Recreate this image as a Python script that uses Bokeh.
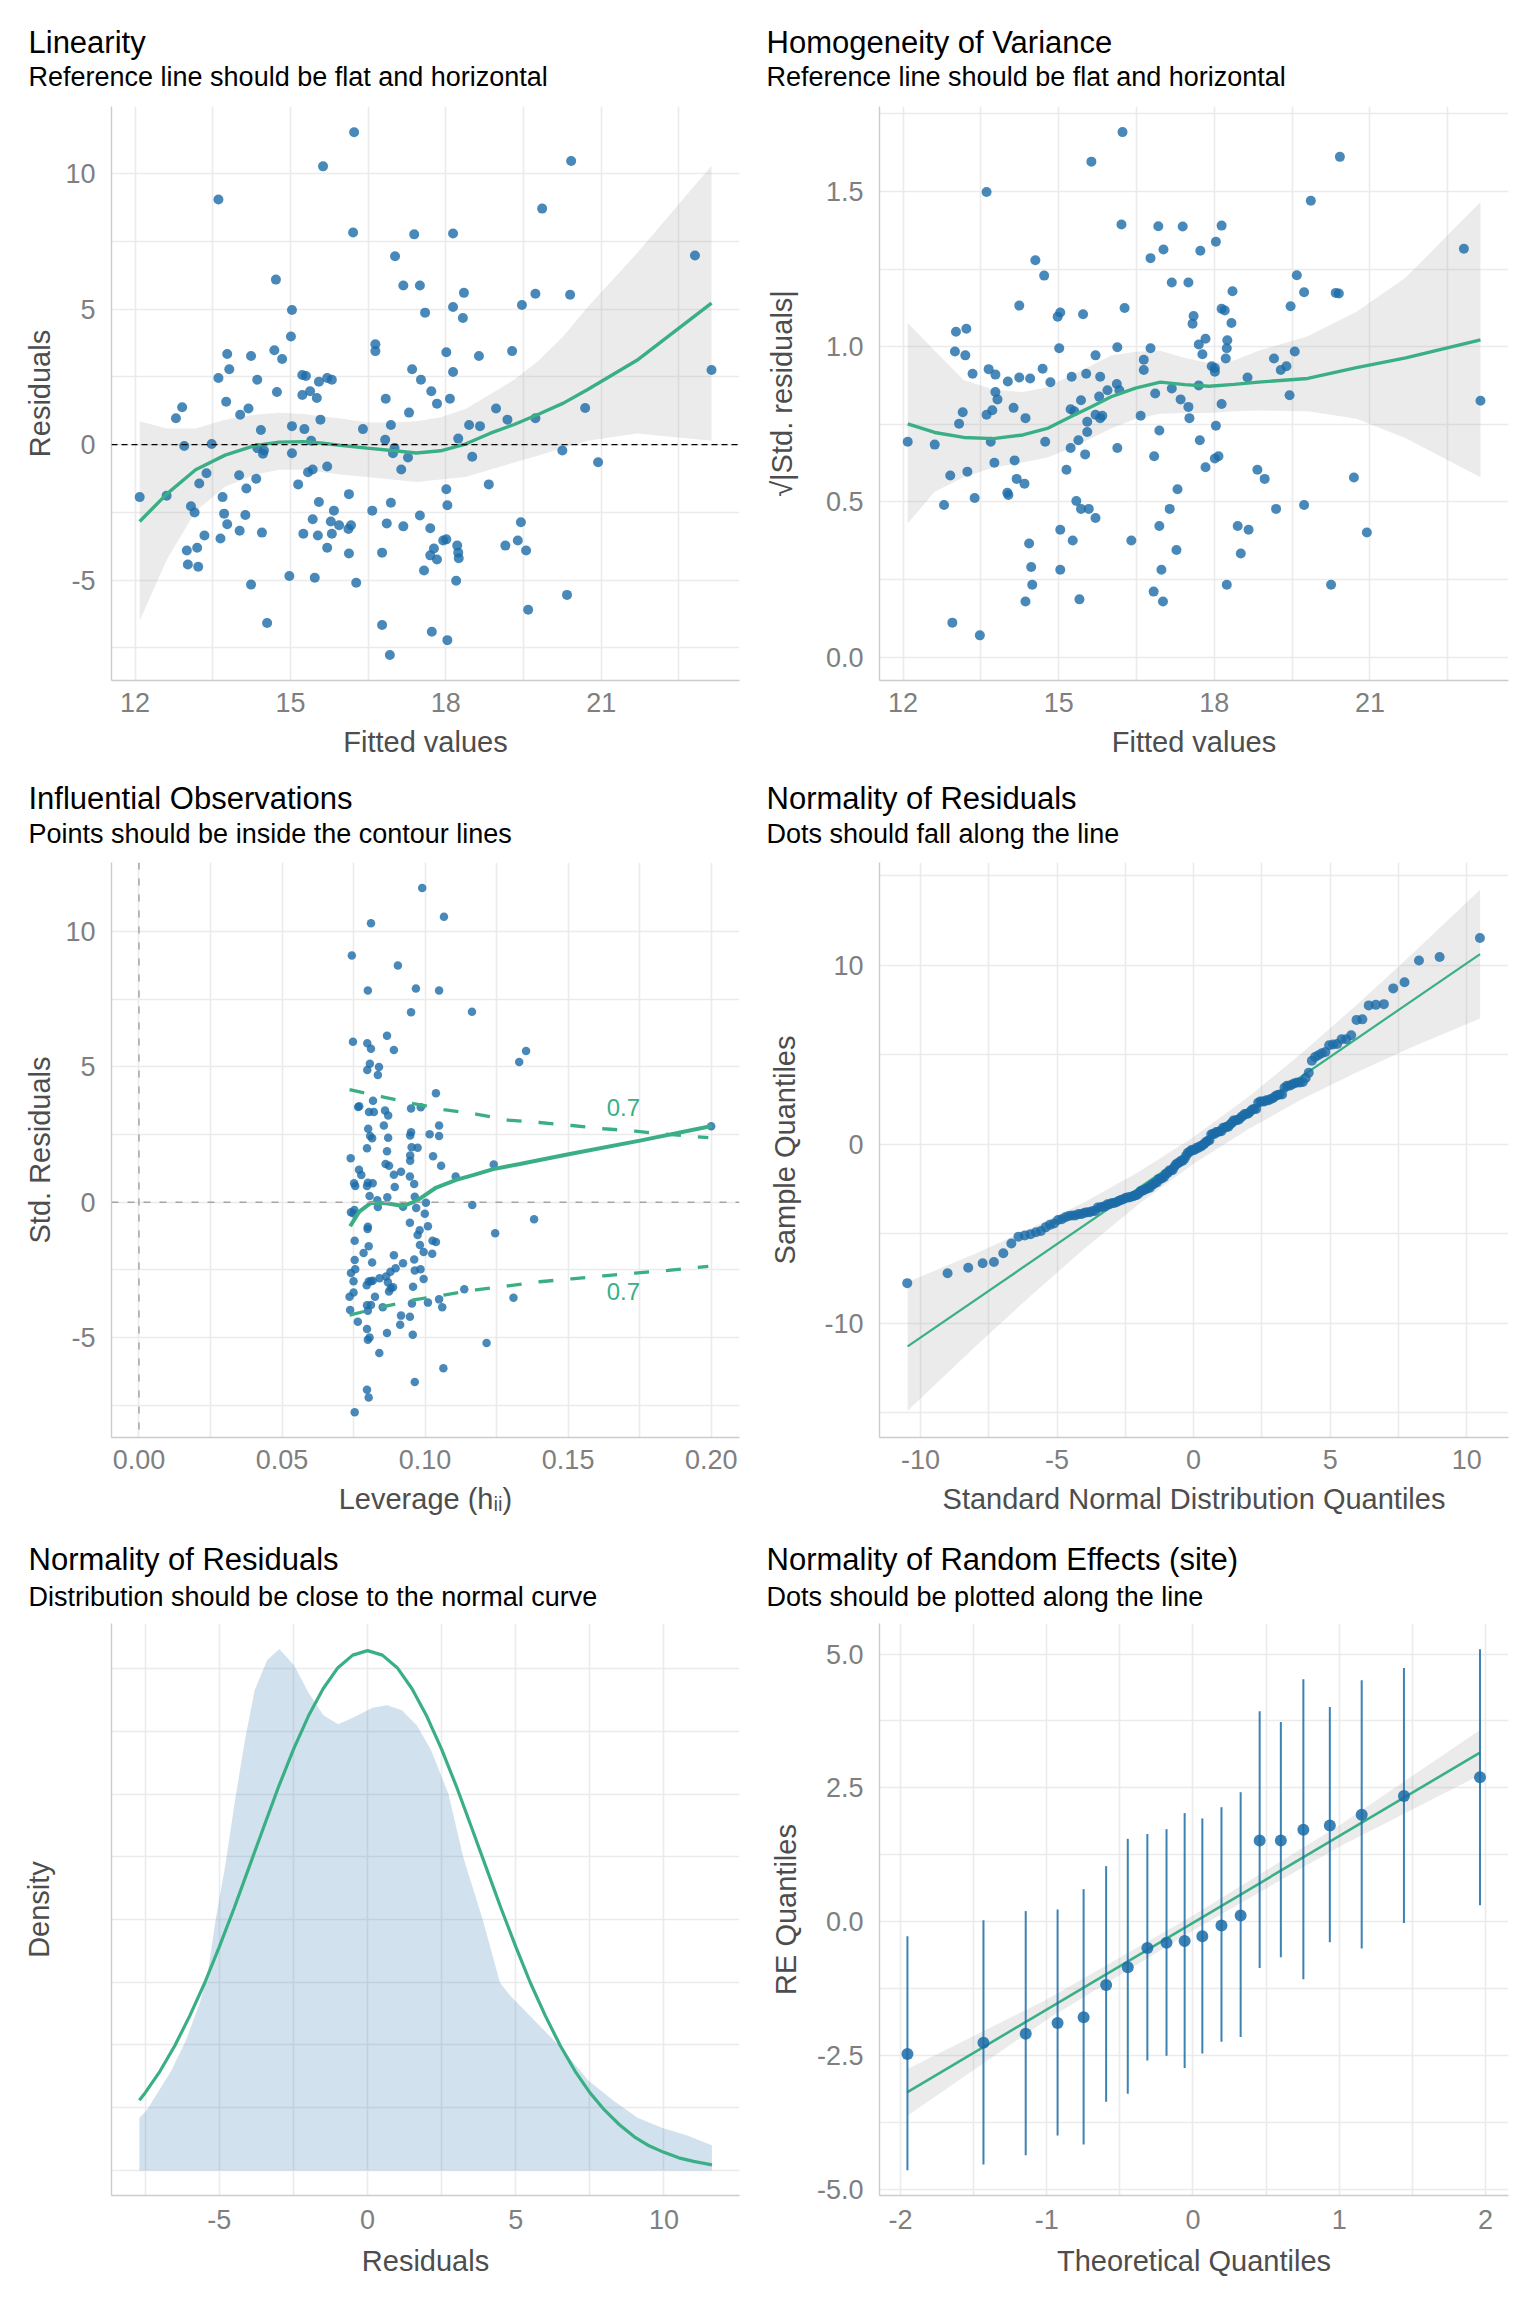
import math
from statistics import NormalDist
from bokeh.plotting import figure
from bokeh.models import Range1d, FixedTicker, PrintfTickFormatter, Title, Label, Span
from bokeh.layouts import column, row
from bokeh.embed import file_html
from bokeh.resources import INLINE

FONT = "Liberation Sans"
BLUE = "#1b6ca8"
GREEN = "#3aaf85"
GRID = "#ebebeb"
AXIS = "#cccccc"
BAND = "#999999"

# ---------------- data ----------------
fitted = [12.09, 12.61, 12.79, 12.91, 12.95, 13.00, 13.02, 13.08, 13.15, 13.20,
          13.22, 13.24, 13.34, 13.38, 13.48, 13.61, 13.61, 13.65, 13.69, 13.72,
          13.76, 13.78, 13.78, 13.82, 14.01, 14.02, 14.03, 14.13, 14.15, 14.19,
          14.24, 14.24, 14.34, 14.36, 14.36, 14.43, 14.45, 14.47, 14.49, 14.55,
          14.69, 14.72, 14.74, 14.84, 14.98, 15.01, 15.03, 15.03, 15.03, 15.15,
          15.23, 15.23, 15.25, 15.27, 15.30, 15.34, 15.38, 15.40, 15.43, 15.43,
          15.47, 15.51, 15.53, 15.55, 15.55, 15.58, 15.63, 15.71, 15.71, 15.71,
          15.78, 15.80, 15.80, 15.84, 15.94, 16.12, 16.13, 16.13, 16.17, 16.21,
          16.23, 16.27, 16.40, 16.58, 16.64, 16.64, 16.77, 16.77, 16.83, 16.84,
          16.86, 16.92, 16.94, 16.94, 16.98, 17.01, 17.02, 17.14, 17.18, 17.18,
          17.27, 17.29, 17.35, 17.39, 17.50, 17.50, 17.52, 17.58, 17.60, 17.70,
          17.72, 17.70, 17.73, 17.77, 17.83, 17.83, 17.95, 18.01, 18.01, 18.01,
          18.03, 18.03, 18.08, 18.14, 18.14, 18.14, 18.20, 18.22, 18.24, 18.25,
          18.24, 18.33, 18.35, 18.45, 18.51, 18.64, 18.66, 18.83, 18.97, 19.15,
          19.19, 19.28, 19.39, 19.45, 19.47, 19.55, 19.59, 19.73, 19.73, 19.86,
          20.25, 20.34, 20.40, 20.42, 20.69, 20.94, 22.81, 23.13]
residuals = [-1.94, -1.89, 0.97, 1.38, -0.05, -3.91, -4.43, -2.28, -2.51, -3.81,
             -4.51, -1.44, -3.36, -1.06, 0.02, 9.05, 2.46, -3.47, -1.94, -2.55,
             1.58, 3.34, -2.94, 2.78, -1.13, -3.18, 1.10, -2.60, -1.62, 1.33,
             3.27, -5.17, -1.26, 2.39, -0.13, 0.54, -3.25, -0.34, -0.22, -6.59,
             3.48, 6.09, 1.94, 3.16, -4.85, 3.99, 4.97, 0.68, -0.32, -1.47,
             2.57, 1.83, -3.29, 0.57, 2.53, -1.02, 1.97, 0.14, -0.92, -2.76,
             -4.92, 1.72, -3.36, 2.32, -2.12, 0.92, 10.27, 2.46, -0.81, -3.81,
             -2.84, 2.39, -3.29, -2.44, -2.98, -3.12, -1.83, -4.02, -2.98, 7.83,
             11.53, -5.10, 0.57, -2.44, 3.70, 3.45, -3.99, -6.66, 0.18, 1.69,
             -2.91, -7.77, 0.72, -2.15, -0.32, -0.13, 6.95, -0.92, -3.02, 5.87,
             -0.48, 1.18, 2.78, 7.76, -2.62, 5.87, 2.39, -4.65, 4.87, -3.09,
             1.97, -4.09, -6.91, -3.84, -4.24, 1.51, -3.54, -3.50, 3.41, -1.65,
             -7.22, -2.24, 1.69, 7.79, 2.68, 5.08, -5.03, -3.73, -3.99, -4.20,
             0.22, 4.67, 5.60, 0.72, -0.45, 3.27, 0.68, -1.47, 1.33, -3.73,
             0.92, 3.45, -3.54, -2.87, 5.15, -3.91, -6.10, 5.57, 0.97, 8.71,
             -0.22, -5.55, 5.53, 10.47, 1.35, -0.65, 6.98, 2.75]
sigma_std = 4.03
qq_scale = 3.84       # x scale of the QQ panel

# panel 1 loess curve and band
lin_x = [12.09, 12.61, 13.17, 13.74, 14.31, 14.78, 15.25, 15.63, 16.01, 16.48, 16.96,
         17.43, 17.90, 18.38, 18.85, 19.32, 19.80, 20.27, 20.74, 21.69, 23.13]
lin_y = [-2.84, -1.83, -0.93, -0.39, -0.04, 0.09, 0.11, 0.05, -0.04, -0.13, -0.22,
         -0.31, -0.23, 0.02, 0.41, 0.74, 1.13, 1.53, 2.03, 3.11, 5.22]
lin_hi = [0.86, 0.59, 0.59, 0.92, 1.10, 1.17, 1.13, 1.04, 0.95, 0.81, 0.81,
          0.86, 1.01, 1.31, 1.85, 2.39, 3.11, 4.00, 5.08, 7.06, 10.29]
lin_lo = [-6.50, -4.26, -2.46, -1.56, -1.11, -0.93, -0.93, -1.02, -1.11, -1.20, -1.29,
          -1.38, -1.29, -1.20, -0.93, -0.66, -0.39, -0.13, 0.14, 0.41, 0.14]

# panel 2 loess curve and band
hom_x = [12.09, 12.61, 13.17, 13.74, 14.31, 14.78, 15.25, 15.63, 16.01, 16.48,
         16.96, 17.43, 17.90, 18.38, 18.85, 19.80, 20.74, 21.69, 23.13]
hom_y = [0.752, 0.724, 0.708, 0.704, 0.716, 0.737, 0.776, 0.807, 0.839, 0.867,
         0.886, 0.878, 0.873, 0.879, 0.886, 0.898, 0.933, 0.964, 1.022]
hom_hi = [1.077, 0.987, 0.893, 0.862, 0.854, 0.870, 0.909, 0.940, 0.972, 0.984,
          0.987, 0.964, 0.948, 0.956, 0.987, 1.034, 1.113, 1.223, 1.466]
hom_lo = [0.431, 0.533, 0.580, 0.611, 0.627, 0.643, 0.674, 0.705, 0.737, 0.768,
          0.784, 0.787, 0.787, 0.792, 0.795, 0.792, 0.768, 0.705, 0.580]

# panel 3 leverage vs std. residuals
leverage = [0.0990, 0.1066, 0.0811, 0.0744, 0.0905, 0.0800, 0.0968, 0.1049, 0.0951, 0.1164,
            0.0748, 0.0798, 0.0811, 0.0867, 0.0891, 0.1353, 0.1329, 0.0807, 0.0839, 0.0798,
            0.0835, 0.1038, 0.0766, 0.0770, 0.0818, 0.0804, 0.0821, 0.0860, 0.0871, 0.0951,
            0.0985, 0.1049, 0.0856, 0.0801, 0.0808, 0.0815, 0.0871, 0.0951, 0.0948, 0.1016,
            0.1049, 0.0797, 0.0867, 0.0953, 0.0974, 0.1028, 0.0948, 0.0740, 0.0948, 0.1056,
            0.1240, 0.0769, 0.0777, 0.0862, 0.0874, 0.0891, 0.0916, 0.0947, 0.0962, 0.1107,
            0.0752, 0.0756, 0.0797, 0.0800, 0.0817, 0.0894, 0.0806, 0.0833, 0.0868, 0.0964,
            0.0835, 0.0923, 0.0969, 0.1003, 0.1165, 0.0999, 0.0741, 0.0753, 0.0750, 0.0800,
            0.0799, 0.0947, 0.1010, 0.0981, 0.0974, 0.1381, 0.1245, 0.0754, 0.0803, 0.1026,
            0.1038, 0.0982, 0.0785, 0.0995, 0.1025, 0.0891, 0.0815, 0.0754, 0.0962, 0.0923,
            0.0897, 0.0879, 0.0756, 0.0984, 0.0964, 0.0741, 0.0750, 0.0995, 0.0803, 0.0811,
            0.0817, 0.0841, 0.0864, 0.0870, 0.0796, 0.0880, 0.0888, 0.0874, 0.0958, 0.0750,
            0.0736, 0.0825, 0.1137, 0.1309, 0.1010, 0.1049, 0.1060, 0.0954, 0.0797, 0.0811,
            0.0852, 0.0800, 0.0738, 0.0765, 0.0916, 0.0947, 0.0913, 0.0797, 0.0867, 0.0957,
            0.0806, 0.0800, 0.1215, 0.0840, 0.1064, 0.0964, 0.0797, 0.0803, 0.0754, 0.2000]
std_res = [11.60, 10.54, 10.30, 9.11, 8.74, 7.81, 7.89, 7.81, 7.01, 7.03,
           5.92, 5.87, 5.66, 6.14, 5.62, 5.58, 5.17, 5.11, 4.99, 4.88,
           4.69, 4.02, 3.51, 3.54, 3.74, 3.33, 3.33, 3.38, 3.20, 3.46,
           3.50, 2.83, 2.83, 2.71, 2.44, 2.36, 2.38, 2.58, 2.46, 2.51,
           2.44, 1.99, 1.88, 2.03, 2.01, 1.69, 1.72, 1.62, 1.53, 1.34,
           1.39, 1.20, 1.00, 1.41, 1.34, 1.01, 1.12, 0.95, 0.67, 0.95,
           0.70, 0.60, 0.60, 0.72, 0.70, 0.56, 0.23, 0.07, 0.18, 0.20,
           -0.18, -0.17, -0.22, -0.02, -0.11, -0.43, -0.37, -0.29, -0.42, -0.91,
           -0.99, -0.76, -0.89, -1.04, -1.21, -0.63, -1.15, -1.43, -1.63, -1.43,
           -1.47, -1.58, -1.88, -1.84, -1.91, -1.96, -2.23, -2.14, -2.12, -2.26,
           -2.44, -2.57, -2.48, -2.48, -2.52, -2.62, -2.92, -2.84, -2.93, -2.92,
           -2.90, -2.81, -2.75, -2.96, -3.07, -3.18, -3.14, -3.30, -3.12, -3.34,
           -3.49, -3.49, -3.22, -3.53, -3.71, -3.59, -3.88, -3.74, -3.81, -3.80,
           -3.88, -4.01, -3.98, -4.42, -4.19, -4.23, -4.53, -4.68, -4.83, -4.90,
           -5.00, -5.08, -5.20, -5.57, -6.13, -6.64, -6.93, -7.21, -7.76, 2.80]
infl_x = [0.0738, 0.0770, 0.0812, 0.0864, 0.0923, 0.0969, 0.1039, 0.1109, 0.1168,
          0.1238, 0.1331, 0.1506, 0.1751, 0.2002]
infl_y = [-0.89, -0.35, -0.02, -0.04, -0.14, 0.04, 0.54, 0.82, 1.00,
          1.22, 1.41, 1.78, 2.27, 2.81]
cook_x = [0.0736, 0.0855, 0.0960, 0.1065, 0.1178, 0.1290, 0.1400, 0.1513, 0.1625,
          0.1735, 0.1850, 0.1990]
cook_hi = [4.15, 3.88, 3.64, 3.42, 3.25, 3.03, 2.94, 2.83, 2.71, 2.62, 2.50, 2.38]
cook_lo = [-4.17, -3.86, -3.61, -3.43, -3.24, -3.09, -2.94, -2.83, -2.72, -2.62, -2.52, -2.37]
cook_label = "0.7"
cook_label_x = 0.1693
cook_label_y = [3.51, -3.30]

# panel 4 QQ line and band
qq_line_x = [-10.47, 10.49]
qq_line_y = [-11.31, 10.63]
qq_band_x = [-10.47, -8, -6, -4, -2, 0, 2, 4, 6, 8, 10.49]
qq_band_hi = [-7.71, -6.13, -4.73, -3.24, -1.54, 0.40, 2.64, 5.14, 7.83, 10.63, 14.23]
qq_band_lo = [-14.91, -11.33, -8.53, -5.84, -3.34, -1.10, 0.84, 2.54, 4.03, 5.43, 7.03]

# panel 5 density of residuals and normal curve
dens_x = [-7.70, -7.45, -6.62, -6.13, -5.63, -5.38, -5.13, -4.80, -4.47, -4.14, -3.81,
          -3.39, -2.98, -2.48, -1.99, -1.49, -0.99, -0.50, 0.17, 0.66, 1.16, 1.66,
          2.15, 2.73, 3.23, 3.89, 4.47, 4.80, 5.46, 6.46, 7.45, 8.28, 9.11, 9.93,
          10.76, 11.62]
dens_y = [0.0105, 0.0120, 0.0199, 0.0259, 0.0339, 0.0399, 0.0498, 0.0608, 0.0738,
          0.0857, 0.0957, 0.1017, 0.1039, 0.1007, 0.0952, 0.0907, 0.0889, 0.0902,
          0.0922, 0.0927, 0.0917, 0.0887, 0.0837, 0.0750, 0.0624, 0.0499, 0.0374,
          0.0349, 0.0309, 0.0249, 0.0179, 0.0140, 0.0105, 0.0085, 0.0070, 0.0050]
norm_x = [-7.7, -7.5, -7, -6.5, -6, -5.5, -5, -4.5, -4, -3.5, -3, -2.5, -2, -1.5, -1,
          -0.5, 0, 0.5, 1, 1.5, 2, 2.5, 3, 3.5, 4, 4.5, 5, 5.5, 6, 6.5, 7, 7.5, 8,
          8.5, 9, 9.5, 10, 10.5, 11, 11.62]
norm_y = [0.0140, 0.0155, 0.0198, 0.0249, 0.0308, 0.0373, 0.0446, 0.0523, 0.0604,
          0.0685, 0.0765, 0.0839, 0.0905, 0.0960, 0.1002, 0.1027, 0.1036, 0.1027,
          0.1002, 0.0960, 0.0905, 0.0839, 0.0765, 0.0685, 0.0604, 0.0523, 0.0446,
          0.0373, 0.0308, 0.0249, 0.0198, 0.0155, 0.0120, 0.0091, 0.0067, 0.0049,
          0.0036, 0.0025, 0.0018, 0.0011]
dens_grid = [0, 0.025, 0.05, 0.075, 0.1]
dens_grid_minor = [0.0125, 0.0375, 0.0625, 0.0875]

# panel 6 random effects
re_x = [-1.953, -1.433, -1.144, -0.926, -0.748, -0.594, -0.446, -0.312, -0.181, -0.057,
        0.064, 0.195, 0.326, 0.456, 0.601, 0.755, 0.936, 1.154, 1.443, 1.963]
re_y = [-2.47, -2.26, -2.09, -1.89, -1.78, -1.18, -0.85, -0.49, -0.39, -0.36,
        -0.27, -0.07, 0.12, 1.52, 1.52, 1.72, 1.80, 2.00, 2.35, 2.70]
re_hi = [-0.27, 0.03, 0.20, 0.23, 0.61, 1.04, 1.55, 1.64, 1.73, 2.03,
         1.93, 2.14, 2.42, 3.93, 3.73, 4.53, 4.01, 4.51, 4.74, 5.09]
re_lo = [-4.64, -4.53, -4.36, -3.99, -4.16, -3.36, -3.21, -2.59, -2.50, -2.73,
         -2.46, -2.24, -2.15, -0.86, -0.66, -1.07, -0.38, -0.50, -0.02, 0.31]
re_line_x = [-1.953, 1.963]
re_line_y = [-3.18, 3.16]
re_band_x = [-1.953, -1.0, 0.0, 1.0, 1.963]
re_band_hi = [-2.75, -1.45, 0.12, 1.80, 3.58]
re_band_lo = [-3.62, -1.83, -0.16, 1.40, 2.74]

# derived series (same transformations as the diagnostic plots)
sqrt_abs_std = [math.sqrt(abs(r) / sigma_std) for r in residuals]
n_res = len(residuals)
qq_theo = [qq_scale * NormalDist().inv_cdf((i + 0.5) / n_res) for i in range(n_res)]
qq_sample = sorted(residuals)


def make_fig(left_col, height, top, bottom, xr, yr, xt, xm, yt, ym, xfmt, yfmt,
             xlabel, ylabel, title, subtitle, ylab_standoff, s_sub, s_title,
             xtick_so, xlab_so):
    if left_col:
        w, bl, br, toff = 755, 111, 16, -83
    else:
        w, bl, br, toff = 781, 124, 28, -113
    p = figure(width=w, height=height, x_range=Range1d(*xr), y_range=Range1d(*yr),
               output_backend="svg", toolbar_location=None,
               min_border_left=bl, min_border_right=br,
               min_border_top=top, min_border_bottom=bottom,
               background_fill_color="white", border_fill_color="white")
    p.outline_line_color = None
    xtick = FixedTicker(ticks=xt, minor_ticks=xm)
    ytick = FixedTicker(ticks=yt, minor_ticks=ym)
    p.xaxis.ticker = xtick
    p.yaxis.ticker = ytick
    p.xgrid.ticker = xtick
    p.ygrid.ticker = ytick
    p.xaxis.formatter = PrintfTickFormatter(format=xfmt)
    p.yaxis.formatter = PrintfTickFormatter(format=yfmt)
    for ax in (p.xaxis[0], p.yaxis[0]):
        ax.axis_line_color = AXIS
        ax.axis_line_width = 1.4
        ax.major_tick_line_color = None
        ax.minor_tick_line_color = None
        ax.major_tick_out = 0
        ax.major_tick_in = 0
        ax.major_label_text_font = FONT
        ax.major_label_text_font_size = "27px"
        ax.major_label_text_color = "#7f7f7f"
        ax.axis_label_text_font = FONT
        ax.axis_label_text_font_size = "29px"
        ax.axis_label_text_font_style = "normal"
        ax.axis_label_text_color = "#4d4d4d"
    p.xaxis.axis_label = xlabel
    p.yaxis.axis_label = ylabel
    p.xaxis.major_label_standoff = xtick_so
    p.xaxis.axis_label_standoff = xlab_so
    p.yaxis.major_label_standoff = 12
    p.yaxis.axis_label_standoff = ylab_standoff
    for g in (p.xgrid[0], p.ygrid[0]):
        g.grid_line_color = GRID
        g.grid_line_width = 1.6
        g.minor_grid_line_color = GRID
        g.minor_grid_line_width = 1.6
    p.add_layout(Title(text=subtitle, align="left", offset=toff, standoff=s_sub,
                       text_font=FONT, text_font_size="27px", text_font_style="normal",
                       text_color="black"), "above")
    p.add_layout(Title(text=title, align="left", offset=toff, standoff=s_title,
                       text_font=FONT, text_font_size="31px", text_font_style="normal",
                       text_color="black"), "above")
    return p


# ---- Panel 1: Linearity
p1 = make_fig(True, 760, 106, 78, (11.546, 23.67), (-8.71, 12.48),
              [12, 15, 18, 21], [13.5, 16.5, 19.5, 22.5], [-5, 0, 5, 10], [-7.5, -2.5, 2.5, 7.5],
              "%d", "%d", "Fitted values", "Residuals", "Linearity",
              "Reference line should be flat and horizontal", 6, 30, -30, 8, 11)
p1.varea(x=lin_x, y1=lin_lo, y2=lin_hi, fill_color=BAND, fill_alpha=0.2)
p1.scatter(fitted, residuals, size=10, fill_color=BLUE, fill_alpha=0.8, line_color=None)
p1.line(lin_x, lin_y, line_color=GREEN, line_width=3.4)
p1.add_layout(Span(location=0, dimension="width", line_color="black", line_width=1.3,
                   line_dash="6 4"))

# ---- Panel 2: Homogeneity of variance
p2 = make_fig(False, 760, 106, 78, (11.546, 23.67), (-0.075, 1.774),
              [12, 15, 18, 21], [13.5, 16.5, 19.5, 22.5], [0, 0.5, 1.0, 1.5], [0.25, 0.75, 1.25, 1.75],
              "%d", "%.1f", "Fitted values", "\u221a|Std. residuals|", "Homogeneity of Variance",
              "Reference line should be flat and horizontal", 25, 30, -30, 8, 11)
p2.varea(x=hom_x, y1=hom_lo, y2=hom_hi, fill_color=BAND, fill_alpha=0.2)
p2.scatter(fitted, sqrt_abs_std, size=10, fill_color=BLUE, fill_alpha=0.8, line_color=None)
p2.line(hom_x, hom_y, line_color=GREEN, line_width=3.4)

# ---- Panel 3: Influential observations
p3 = make_fig(True, 760, 102, 83, (-0.0096, 0.2099), (-8.69, 12.54),
              [0, 0.05, 0.10, 0.15, 0.20], [0.025, 0.075, 0.125, 0.175],
              [-5, 0, 5, 10], [-7.5, -2.5, 2.5, 7.5],
              "%.2f", "%d", "Leverage (h\u1d62\u1d62)", "Std. Residuals", "Influential Observations",
              "Points should be inside the contour lines", 6, 28, -26, 8, 11)
p3.add_layout(Span(location=0, dimension="width", line_color="#a6a6a6", line_width=1.5,
                   line_dash="7 9"))
p3.add_layout(Span(location=0, dimension="height", line_color="#a6a6a6", line_width=1.5,
                   line_dash="7 9"))
p3.scatter(leverage, std_res, size=8.5, fill_color=BLUE, fill_alpha=0.8, line_color=None)
p3.line(cook_x, cook_hi, line_color=GREEN, line_width=3.3, line_dash="15 17")
p3.line(cook_x, cook_lo, line_color=GREEN, line_width=3.3, line_dash="15 17")
p3.line(infl_x, infl_y, line_color=GREEN, line_width=4)
for yy in cook_label_y:
    p3.add_layout(Label(x=cook_label_x, y=yy, text=cook_label, text_align="center",
                        text_baseline="middle", text_color=GREEN, text_font=FONT,
                        text_font_size="24px"))

# ---- Panel 4: QQ plot
p4 = make_fig(False, 760, 102, 83, (-11.50, 11.53), (-16.40, 15.75),
              [-10, -5, 0, 5, 10], [-7.5, -2.5, 2.5, 7.5], [-10, 0, 10], [-15, -5, 5, 15],
              "%d", "%d", "Standard Normal Distribution Quantiles", "Sample Quantiles",
              "Normality of Residuals", "Dots should fall along the line", 20, 28, -26, 8, 11)
p4.varea(x=qq_band_x, y1=qq_band_lo, y2=qq_band_hi, fill_color=BAND, fill_alpha=0.2)
p4.line(qq_line_x, qq_line_y, line_color=GREEN, line_width=2.2)
p4.scatter(qq_theo, qq_sample, size=10, fill_color=BLUE, fill_alpha=0.8, line_color=None)

# ---- Panel 5: density (no y tick labels, grid kept)
p5 = make_fig(True, 784, 103, 109, (-8.64, 12.55), (-0.005, 0.109),
              [-5, 0, 5, 10], [-7.5, -2.5, 2.5, 7.5],
              [], [],
              "%d", "%.3f", "Residuals", "Density", "Normality of Residuals",
              "Distribution should be close to the normal curve", 57, 24, -18, 10, 13)
p5.ygrid.ticker = FixedTicker(ticks=dens_grid, minor_ticks=dens_grid_minor)
p5.varea(x=dens_x, y1=[0] * len(dens_x), y2=dens_y, fill_color=BLUE, fill_alpha=0.2)
p5.line(norm_x, norm_y, line_color=GREEN, line_width=3.2)

# ---- Panel 6: random effects
p6 = make_fig(False, 784, 103, 109, (-2.144, 2.158), (-5.11, 5.57),
              [-2, -1, 0, 1, 2], [-1.5, -0.5, 0.5, 1.5],
              [-5, -2.5, 0, 2.5, 5], [-3.75, -1.25, 1.25, 3.75],
              "%d", "%.1f", "Theoretical Quantiles", "RE Quantiles",
              "Normality of Random Effects (site)", "Dots should be plotted along the line",
              12, 24, -18, 10, 13)
p6.varea(x=re_band_x, y1=re_band_lo, y2=re_band_hi, fill_color=BAND, fill_alpha=0.2)
p6.line(re_line_x, re_line_y, line_color=GREEN, line_width=2.6)
p6.segment(x0=re_x, y0=re_lo, x1=re_x, y1=re_hi, line_color=BLUE, line_alpha=0.85, line_width=2)
p6.scatter(re_x, re_y, size=12, fill_color=BLUE, fill_alpha=0.85, line_color=None)

layout = column(row(p1, p2), row(p3, p4), row(p5, p6))
open("out.html", "w").write(file_html(layout, INLINE))
